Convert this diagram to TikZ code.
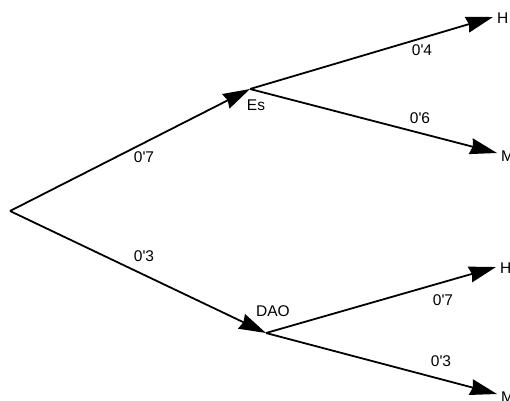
\documentclass[tikz,border=0pt]{standalone}
\usepackage{fontspec}
\setmainfont{Liberation Sans}[Ligatures=TeXOff]
\usetikzlibrary{arrows.meta}
\begin{document}
\begin{tikzpicture}[x=1pt,y=-1pt,
  branch/.style={line width=1.8pt,-{Stealth[length=27pt,width=16pt,inset=2pt]}},
  lbl/.style={inner sep=0pt,font=\fontsize{15.5}{18}\selectfont}]
\useasboundingbox (0,0) rectangle (510,400);
\coordinate (root) at (10,211);
\coordinate (es) at (250,89);
\coordinate (dao) at (266,333);
\coordinate (h1) at (493,17);
\coordinate (m1) at (497,153);
\coordinate (h2) at (496,267);
\coordinate (m2) at (497,394);
\draw[branch] (root) -- (es);
\draw[branch] (root) -- (dao);
\draw[branch] (es) -- (h1);
\draw[branch] (es) -- (m1);
\draw[branch] (dao) -- (h2);
\draw[branch] (dao) -- (m2);
\node[lbl] (les) at (256,105) {Es};
\node[lbl] (ldao) at (273,311) {DAO};
\node[lbl] (p07) at (144,157) {0'7};
\node[lbl] (p03) at (144,256) {0'3};
\node[lbl] (p04) at (422,50) {0'4};
\node[lbl] (p06) at (420,118) {0'6};
\node[lbl] (p07b) at (443,300) {0'7};
\node[lbl] (p03b) at (441,361) {0'3};
\node[lbl,anchor=west] (lh1) at (497,18) {H};
\node[lbl,anchor=west] (lm1) at (501,156) {M};
\node[lbl,anchor=west] (lh2) at (500,268) {H};
\node[lbl,anchor=west] (lm2) at (501,397) {M};
\end{tikzpicture}
\end{document}
